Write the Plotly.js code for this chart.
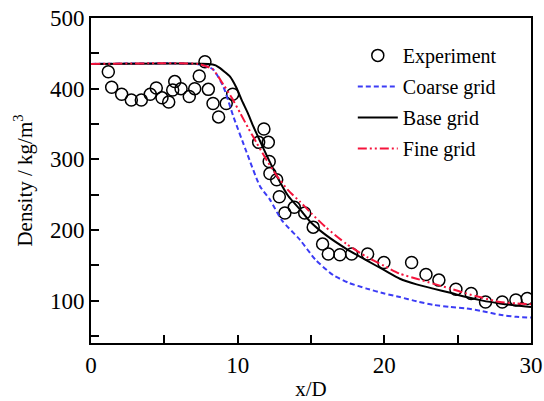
<!DOCTYPE html>
<html>
<head>
<meta charset="utf-8">
<script src="https://cdn.plot.ly/plotly-3.0.1.min.js"></script>
<style>html,body{margin:0;padding:0;background:#fff;}#chart{width:544px;height:401px;}</style>
</head>
<body>
<div id="chart"></div>
<script>
// Experiment
const expX = [1.18,1.41,2.09,2.75,3.43,4.04,4.45,4.84,5.3,5.57,5.71,6.14,6.7,7.07,7.38,7.77,8.0,8.32,8.7,9.22,9.66,11.43,11.79,12.09,12.15,12.2,12.66,12.84,13.22,13.86,14.57,15.15,15.79,16.18,16.97,17.77,18.86,19.97,21.86,22.84,23.72,24.88,25.92,26.9,28.04,28.97,29.74];
const expY = [424,402,392,384,384,392,401,387,381,398,410,400,389,400,418,438,399,379,360,379,392,324,343,324,297,280,271,247,224,232,224,204,180,166,165,166,166,154,154,137,129,116,110,98,98,101,103];
// Coarse grid
const coarseX = [0,7.2,7.8,8.34,9.02,9.7,10.61,11.52,12.2,13.0,14.25,15.3,16.52,17.6,18.79,20.0,21.06,22.2,23.33,24.5,25.6,26.7,27.88,29,30];
const coarseY = [435,435,432,427,403,361,310,262,243,214,186,158,136,125,117,110,105,99,94,91,89,85,80,77,76];
// Base grid
const baseX = [0,8.0,8.5,8.8,9.1,9.48,9.9,10.27,10.7,11.06,11.5,11.97,12.7,13.45,14.25,14.93,16.0,17.43,18.79,20.0,21.06,22.2,23.33,24.5,25.6,26.7,27.88,29,30];
const baseY = [435,435,433,429,424,417,402,384,365,347,327,306,275,248,229,212,193,173,157,143,131,123,117,111,105,100,96,93,91];
// Fine grid
const fineX = [0,7.3,7.8,8.32,9.02,9.6,10.16,10.7,11.3,12.0,12.66,13.45,14.25,15.0,16.0,17.43,18.79,20.0,21.06,22.2,23.33,24.5,25.6,26.7,27.88,29,30];
const fineY = [435,435,432,427,406,387,366,345,323,298,277,256,240,224,204,180,162,149,138,131,124,117,110,104,98,96,95];

const xTicks = [0,10,20,30];
const xMinorTicks = [5,15,25];
const yTicks = [100,200,300,400,500];
const yMinorTicks = [50,150,250,350,450];

const serif = 'Liberation Serif';

const traces = [
  {x: expX, y: expY, mode: 'markers', name: 'Experiment', legendgroup: 'a',
   marker: {symbol: 'circle-open', size: 12, color: 'black', line: {width: 1.5, color: 'black'}}},
  {x: coarseX, y: coarseY, mode: 'lines', name: 'Coarse grid', legendgroup: 'b',
   line: {color: '#3c3cf5', width: 2, dash: '5px,3px', shape: 'spline', smoothing: 0.6}},
  {x: baseX, y: baseY, mode: 'lines', name: 'Base grid', legendgroup: 'c',
   line: {color: 'black', width: 2, shape: 'spline', smoothing: 0.6}},
  {x: fineX, y: fineY, mode: 'lines', name: 'Fine grid', legendgroup: 'd',
   line: {color: '#f5143c', width: 2, dash: '9px,3px,2px,3px,2px,3px', shape: 'spline', smoothing: 0.6}}
];

const layout = {
  width: 544, height: 401,
  margin: {l: 91, r: 13, t: 18, b: 58},
  paper_bgcolor: 'white', plot_bgcolor: 'white',
  font: {family: serif, size: 22, color: 'black'},
  showlegend: true,
  legend: {x: 0.595, y: 0.945, xanchor: 'left', yanchor: 'top', bgcolor: 'rgba(0,0,0,0)',
    font: {family: serif, size: 20, color: 'black'}, traceorder: 'grouped', tracegroupgap: 2, itemwidth: 40},
  xaxis: {range: [0, 30], tickvals: xTicks, tickfont: {family: 'Liberation Serif', size: 23},
    ticks: 'inside', ticklen: 8, tickwidth: 2, tickcolor: 'black',
    showline: true, linewidth: 2, linecolor: 'black', mirror: true, showgrid: false, zeroline: false,
    minor: {tickvals: xMinorTicks, ticks: 'inside', ticklen: 8, tickwidth: 2, tickcolor: 'black', showgrid: false},
    title: {text: 'x/D', font: {family: serif, size: 21}, standoff: 9}},
  yaxis: {range: [40, 500], tickvals: yTicks, tickfont: {family: 'Liberation Serif', size: 23},
    ticks: 'inside', ticklen: 8, tickwidth: 2, tickcolor: 'black',
    showline: true, linewidth: 2, linecolor: 'black', mirror: true, showgrid: false, zeroline: false,
    minor: {tickvals: yMinorTicks, ticks: 'inside', ticklen: 8, tickwidth: 2, tickcolor: 'black', showgrid: false},
    title: {text: 'Density / kg/m<sup>3</sup>', font: {family: serif, size: 21}, standoff: 12}}
};

Plotly.newPlot('chart', traces, layout, {displayModeBar: false, staticPlot: true});
</script>
</body>
</html>
